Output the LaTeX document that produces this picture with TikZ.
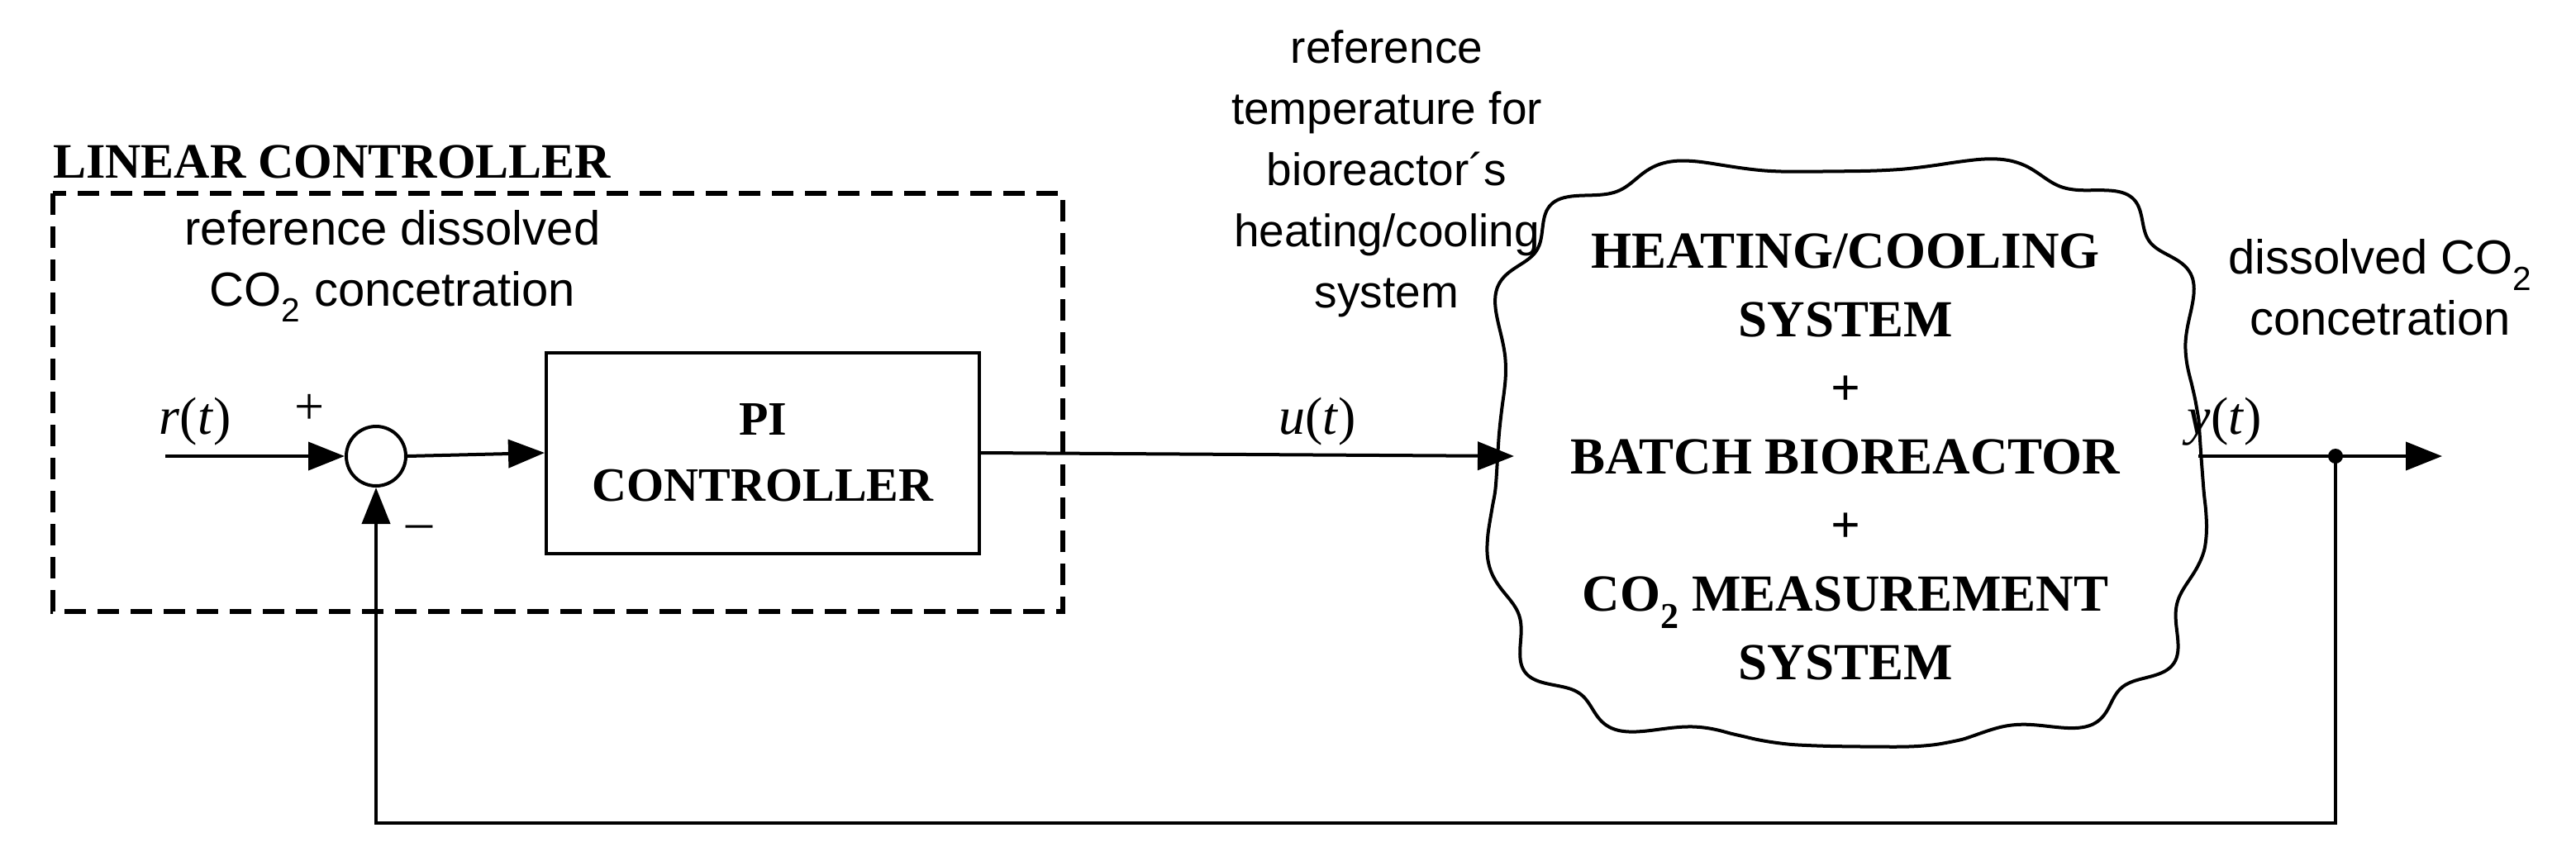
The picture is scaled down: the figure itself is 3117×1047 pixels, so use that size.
\documentclass[tikz,border=0pt]{standalone}
\usepackage{fontspec}
\setmainfont{Liberation Serif}
\newfontfamily\sans{Liberation Sans}
\usetikzlibrary{arrows.meta,shapes.geometric}
\begin{document}
\begin{tikzpicture}[x=1pt,y=-1pt,
  sig/.style={line width=4pt,-{Triangle[length=44pt,width=34pt]}},
  lab/.style={font=\sans\fontsize{58}{74}\selectfont,align=center,inner sep=0},
  blk/.style={font=\bfseries\fontsize{63}{83}\selectfont,align=center,inner sep=0},
  mth/.style={font=\fontsize{64}{66}\selectfont,inner sep=0}]
\useasboundingbox (0,0) rectangle (3117,1047);
% dashed linear controller box
\draw[line width=6pt,dash pattern=on 26pt off 14pt] (64,234) rectangle (1286,740);
\node[blk,anchor=west,font=\bfseries\fontsize{60}{70}\selectfont] (lc) at (64,196) {LINEAR CONTROLLER};
\node[lab] (rdc) at (475,322) {reference dissolved\\CO\textsubscript{2} concetration};
% summing junction
\node[circle,draw,line width=4pt,minimum size=72pt,inner sep=0] (sum) at (455,552) {};
\coordinate (in) at (200,552);
\node[mth] (rt) at (236,510) {\textit{r}(\textit{t})};
\node[font=\fontsize{64}{66}\selectfont,inner sep=0] (plus) at (375,495) {+};
\node[font=\fontsize{64}{66}\selectfont,inner sep=0] (minus) at (507,644) {–};
% PI controller
\node[draw,line width=4pt,minimum width=524pt,minimum height=243pt,blk,font=\bfseries\fontsize{58}{80}\selectfont] (pi) at (923,548) {PI\\CONTROLLER};
% cloud
\draw[line width=4pt,smooth,variable=\t]
 plot[domain=0:359,samples=240] ({2234+425*(cos(\t)<0?-1:1)*pow(abs(cos(\t))+0.0001,0.55)*(1+0.028*sin(13*\t+20))},
      {546+348*(sin(\t)<0?-1:1)*pow(abs(sin(\t))+0.0001,0.55)*(1+0.028*sin(13*\t+20))}) -- cycle;
\node[blk] (plant) at (2233,553) {HEATING/COOLING\\SYSTEM\\+\\BATCH BIOREACTOR\\+\\CO\textsubscript{2} MEASUREMENT\\SYSTEM};
\coordinate (pin) at (1832,552);
\coordinate (pout) at (2660,552);
\node[lab,font=\sans\fontsize{55}{74}\selectfont] (ut-lab) at (1678,210) {reference\\temperature for\\bioreactor´s\\heating/cooling\\system};
\node[mth] (ut) at (1594,510) {\textit{u}(\textit{t})};
\node[lab] (yl) at (2880,348) {dissolved CO\textsubscript{2}\\concetration};
\node[mth] (yt) at (2692,510) {\textit{y}(\textit{t})};
\coordinate (out) at (2955,552);
\coordinate (jn) at (2826,552);
\coordinate (fb1) at (2826,996);
\coordinate (fb2) at (455,996);
\fill (jn) circle (9pt);
% connectors
\draw[sig] (in) -- (sum.west);
\draw[sig] (sum.east) -- (pi.west);
\draw[sig] (pi.east) -- (pin);
\draw[sig] (pout) -- (out);
\draw[sig] (jn) -- (fb1) -- (fb2) -- (sum.south);
\end{tikzpicture}
\end{document}
